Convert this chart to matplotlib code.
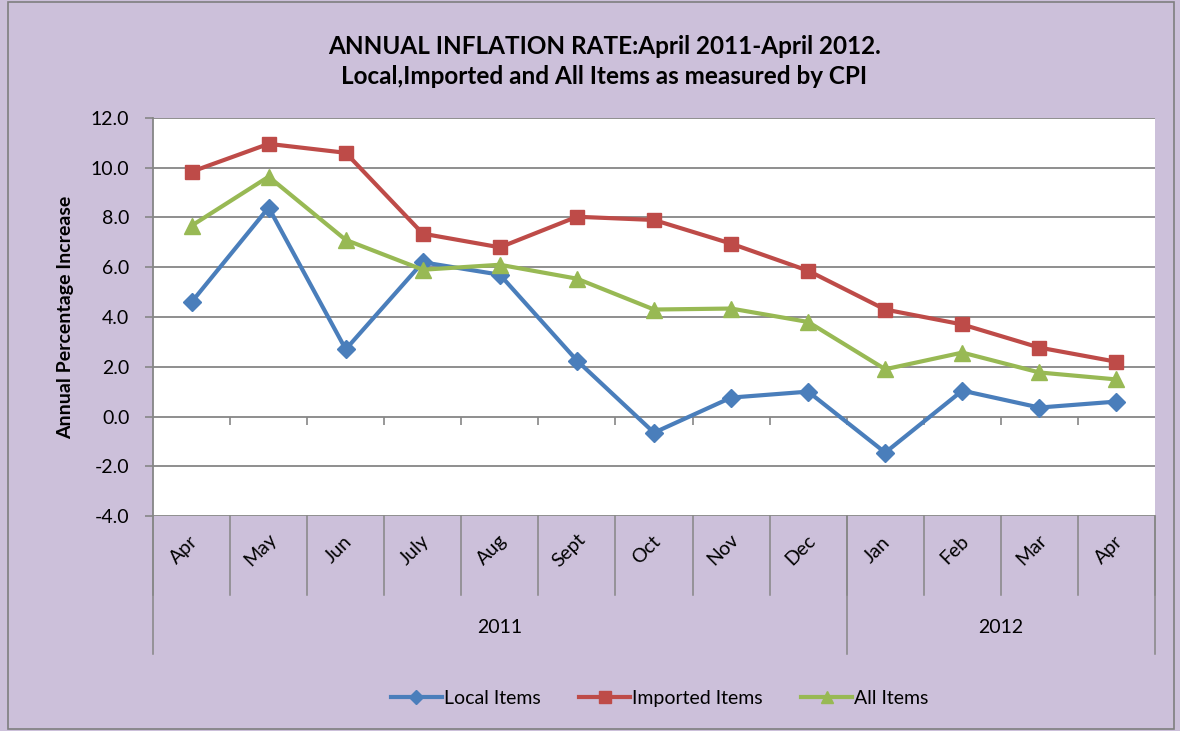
import matplotlib.pyplot as plt
from matplotlib.patches import Rectangle
import matplotlib.transforms as mtransforms

plt.rcParams['font.family'] = ['Lato', 'DejaVu Sans']

months = ['Apr', 'May', 'Jun', 'July', 'Aug', 'Sept', 'Oct', 'Nov', 'Dec', 'Jan', 'Feb', 'Mar', 'Apr']
years = ['2011', '2012']
year_counts = [9, 4]

local_items = [4.6, 8.4, 2.7, 6.2, 5.7, 2.25, -0.65, 0.76, 1.0, -1.45, 1.04, 0.36, 0.6]
imported_items = [9.84, 10.96, 10.6, 7.35, 6.8, 8.03, 7.9, 6.95, 5.86, 4.3, 3.7, 2.77, 2.2]
all_items = [7.67, 9.64, 7.1, 5.9, 6.1, 5.54, 4.3, 4.34, 3.8, 1.9, 2.57, 1.77, 1.49]

bg = '#CCC0DA'
grid_c = '#868686'

fig = plt.figure(figsize=(11.8, 7.31), dpi=100, facecolor=bg)
fig.patches.append(Rectangle((0.007, 0.003), 0.988, 0.994, transform=fig.transFigure,
                             fill=False, edgecolor='#7F7F7F', linewidth=1.2))
ax = fig.add_axes([0.1297, 0.2941, 0.8491, 0.5445])
ax.set_facecolor('white')

x = list(range(len(months)))
ax.plot(x, local_items, color='#4A7EBB', lw=3, marker='D', ms=9, label='Local Items')
ax.plot(x, imported_items, color='#BE4B48', lw=3, marker='s', ms=10, label='Imported Items')
ax.plot(x, all_items, color='#98B954', lw=3, marker='^', ms=11, label='All Items')

ax.set_xlim(-0.5, len(months) - 0.5)
ax.set_ylim(-4, 12)
ax.set_yticks(range(-4, 13, 2))
ax.set_yticklabels(['%.1f' % v for v in range(-4, 13, 2)], fontsize=14)
ax.yaxis.grid(True, color=grid_c, lw=1.3)
ax.set_axisbelow(True)
ax.tick_params(axis='y', length=6, color=grid_c, width=1.2, pad=11)

for s in ['top', 'right']:
    ax.spines[s].set_visible(False)
ax.spines['left'].set_color(grid_c)
ax.spines['left'].set_linewidth(1.3)
ax.spines['bottom'].set_position(('data', 0))
ax.spines['bottom'].set_visible(False)
ax.set_xticks([i + 0.5 for i in range(len(months) - 1)])
ax.set_xticklabels([])
ax.tick_params(axis='x', length=6, color=grid_c, width=1.2, direction='out')

ax.set_ylabel('Annual Percentage Increase', fontsize=14, fontweight='bold', labelpad=12)

trans = mtransforms.blended_transform_factory(ax.transData, ax.transAxes)
for i, m in enumerate(months):
    ax.text(i - 0.1, -0.085, m, transform=trans, rotation=45, ha='center', va='center', fontsize=14)
for i in range(len(months) + 1):
    ax.plot([i - 0.5, i - 0.5], [0, -0.198], transform=trans, color=grid_c, lw=1.1, clip_on=False)

start = 0
bounds = [-0.5]
for y, n in zip(years, year_counts):
    ax.text(start + (n - 1) / 2, -0.281, y, transform=trans, ha='center', va='center', fontsize=14)
    start += n
    bounds.append(start - 0.5)
for b in bounds:
    ax.plot([b, b], [0, -0.347], transform=trans, color=grid_c, lw=1.1, clip_on=False)

fig.text(0.512, 0.916, 'ANNUAL INFLATION RATE:April 2011-April 2012.\nLocal,Imported and All Items as measured by CPI',
         ha='center', va='center', fontsize=17.5, fontweight='bold', linespacing=1.35)

fig.legend(loc='center', bbox_to_anchor=(0.559, 0.045), ncol=3, frameon=False, fontsize=14,
           handlelength=2.6, handletextpad=0.1, columnspacing=2.0, markerscale=0.8)

fig.savefig('out.png', dpi=100, facecolor=bg)
